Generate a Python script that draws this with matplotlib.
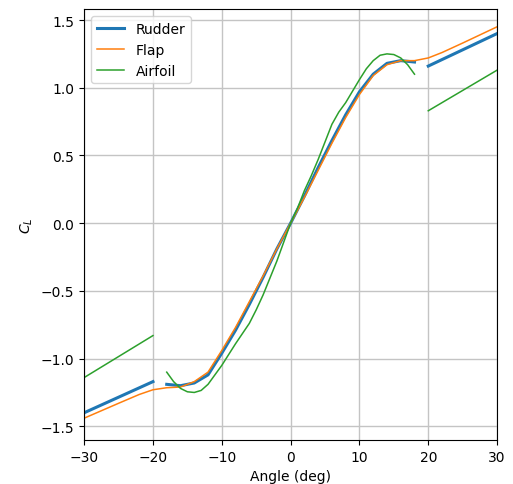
import numpy as np
import matplotlib
matplotlib.use("Agg")
import matplotlib.pyplot as plt

# Rudder: three separate segments
rudder_lo_x = [-30, -25, -20]
rudder_lo_y = [-1.40, -1.285, -1.17]
rudder_mid_x = [-18, -16, -14, -12, -10, -8, -6, -4, -2, 0, 2, 4, 6, 8, 10, 12, 14, 16, 18]
rudder_mid_y = [-1.19, -1.20, -1.18, -1.12, -0.96, -0.79, -0.60, -0.40, -0.19, 0.0,
                0.20, 0.41, 0.61, 0.80, 0.97, 1.10, 1.18, 1.20, 1.19]
rudder_hi_x = [20, 25, 30]
rudder_hi_y = [1.16, 1.28, 1.40]

# Flap: continuous
flap_x = [-30, -25, -22, -20, -18, -16, -14, -12, -10, -8, -6, -4, -2, 0,
          2, 4, 6, 8, 10, 12, 14, 16, 18, 20, 22, 25, 30]
flap_y = [-1.44, -1.33, -1.265, -1.23, -1.215, -1.21, -1.17, -1.10, -0.94, -0.77, -0.58, -0.39, -0.19, 0.0,
          0.19, 0.39, 0.59, 0.78, 0.95, 1.09, 1.17, 1.20, 1.20, 1.22, 1.26, 1.33, 1.45]

# Airfoil: three separate segments
airfoil_lo_x = [-30, -25, -20]
airfoil_lo_y = [-1.14, -0.985, -0.83]
airfoil_mid_x = [-18, -17, -16, -15, -14, -13, -12, -11, -10, -8, -6, -5, -4, -2, -1, 0,
                 1, 2, 3, 4, 5, 6, 7, 8, 10, 11, 12, 13, 14, 15, 16, 17, 18]
airfoil_mid_y = [-1.10, -1.17, -1.22, -1.245, -1.25, -1.235, -1.19, -1.12, -1.05, -0.89, -0.74, -0.64, -0.53, -0.28, -0.14, 0.0,
                 0.11, 0.24, 0.35, 0.47, 0.60, 0.73, 0.82, 0.89, 1.06, 1.14, 1.20, 1.24, 1.25, 1.245, 1.22, 1.17, 1.10]
airfoil_hi_x = [20, 25, 30]
airfoil_hi_y = [0.83, 0.98, 1.13]


def join(*segs):
    """Join (x, y) segments with NaN breaks so they plot as one line."""
    xs, ys = [], []
    for i, (x, y) in enumerate(segs):
        if i:
            xs.append(np.nan)
            ys.append(np.nan)
        xs.extend(x)
        ys.extend(y)
    return np.array(xs, dtype=float), np.array(ys, dtype=float)


fig = plt.figure(figsize=(5.13, 4.85), dpi=100)
ax = fig.add_axes([0.164, 0.091, 0.805, 0.888])

rx, ry = join((rudder_lo_x, rudder_lo_y), (rudder_mid_x, rudder_mid_y), (rudder_hi_x, rudder_hi_y))
ax.plot(rx, ry, color="C0", lw=2.2, label="Rudder")
ax.plot(flap_x, flap_y, color="C1", lw=1.1, label="Flap")
ax_, ay = join((airfoil_lo_x, airfoil_lo_y), (airfoil_mid_x, airfoil_mid_y), (airfoil_hi_x, airfoil_hi_y))
ax.plot(ax_, ay, color="C2", lw=1.1, label="Airfoil")

ax.set_xlim(-30, 30)
ax.set_ylim(-1.6, 1.58)
ax.set_xticks([-30, -20, -10, 0, 10, 20, 30])
ax.set_yticks([-1.5, -1.0, -0.5, 0.0, 0.5, 1.0, 1.5])
ax.grid(True, color="#c4c4c4", lw=1.0)
ax.set_xlabel("Angle (deg)")
ax.set_ylabel("$C_L$")
ax.legend(loc="upper left")

fig.savefig("out.png", dpi=100)
